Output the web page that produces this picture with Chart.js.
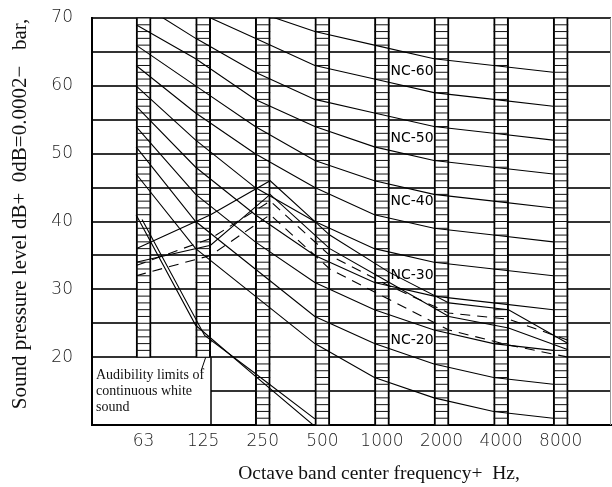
<!DOCTYPE html>
<html>
<head>
<meta charset="utf-8">
<script src="https://cdn.jsdelivr.net/npm/chart.js@4.4.1/dist/chart.umd.min.js"></script>
<style>
  html, body { margin: 0; padding: 0; background: #fff; }
  #nc-chart { display: block; }
</style>
</head>
<body>
<canvas id="nc-chart" width="612" height="487"></canvas>
<script>
"use strict";
// octave bands
const bandLabels = ["63", "125", "250", "500", "1000", "2000", "4000", "8000"];
const bandPositions = [0, 1, 2, 3, 4, 5, 6, 7];
const columnBottoms = [20, 20, 10, 10, 10, 10, 10, 10];
const columnTop = 70;

// NC curves, dB per band
const nc15 = [47, 36, 29, 22, 17, 14, 12, 11];
const nc20 = [51, 40, 33, 26, 22, 19, 17, 16];
const nc25 = [54, 44, 37, 31, 27, 24, 22, 21];
const nc30 = [57, 48, 41, 35, 31, 29, 28, 27];
const nc35 = [60, 52, 45, 40, 36, 34, 33, 32];
const nc40 = [63, 56, 50, 45, 41, 39, 38, 37];
const nc45 = [66, 60, 54, 49, 46, 44, 43, 42];
const nc50 = [69, 64, 58, 54, 51, 49, 48, 47];
const nc55 = [72.5, 67, 62, 58, 56, 54, 53, 52];
const nc60 = [76, 71, 67, 63, 61, 59, 58, 57];
const nc65 = [80, 75, 71, 68, 66, 64, 63, 62];

const ncLabelNames = ["NC-60", "NC-50", "NC-40", "NC-30", "NC-20"];
const ncLabelLevels = [62.2, 52.2, 42.9, 32.1, 22.5];

// measured spectra
const spectrumPositions = [0, 1.25, 2.25, 3.25, 4.25, 5.25, 6.25, 7.25];
const solidSpectrumA = [36, 41, 46, 38, 32.5, 28, 27, 22];
const solidSpectrumB = [34, 36.5, 44, 36, 31, 26, 24.3, 21.1];
const dashedSpectrumA = [33.5, 37.5, 43, 35, 30.5, 26.5, 25.6, 22.5];
const dashedSpectrumB = [32, 35, 41, 33, 28.5, 24, 21.8, 20];

// audibility limits of continuous white sound
const audibilityPositionsA = [0, 1, 2, 3];
const audibilityLevelsA = [41, 24.7, 17.2, 9.8];
const audibilityPositionsB = [0.1, 1.15, 2, 3];
const audibilityLevelsB = [40.3, 23.2, 17.6, 10.9];

const yAxisTitle = "Sound pressure level dB+  0dB=0.0002\u2212   bar,";
const xAxisTitle = "Octave band center frequency+  Hz,";
const noteLines = ["Audibility limits of", "continuous white", "sound"];

const columnHalf = 0.126;
const tickFont = { family: "DejaVu Sans", size: 17, weight: 300 };

const toPoints = (xs, ys) => xs.map((x, i) => ({ x: x, y: ys[i] }));

const ncDatasets = [nc15, nc20, nc25, nc30, nc35, nc40, nc45, nc50, nc55, nc60, nc65].map(
  (levels) => ({
    type: "line",
    data: toPoints(bandPositions, levels),
    borderColor: "#000",
    borderWidth: 1.1,
    pointRadius: 0,
    order: 1,
  }),
);

const spectrumDataset = (levels, dashed) => ({
  type: "line",
  data: toPoints(spectrumPositions, levels),
  borderColor: "#000",
  borderWidth: 1.1,
  borderDash: dashed ? [10, 7] : [],
  pointRadius: 0,
  order: 1,
});

const columnsDataset = {
  type: "bar",
  data: bandPositions.map((p, i) => ({ x: p + columnHalf, y: [columnBottoms[i], columnTop] })),
  backgroundColor: "#fff",
  borderColor: "#000",
  borderWidth: { left: 2, right: 2, top: 0, bottom: 0 },
  borderSkipped: false,
  barThickness: 15,
  order: 5,
};

const chartDecorations = {
  id: "chartDecorations",
  beforeDatasetsDraw(chart) {
    const { ctx, chartArea, scales } = chart;
    const columns = chart.getDatasetMeta(chart.data.datasets.length - 1).data;
    const boxRight = Math.round(columns[1].x + columns[1].width / 2);
    const boxTop = scales.y.getPixelForValue(20);
    ctx.save();
    ctx.fillStyle = "#fff";
    ctx.fillRect(chartArea.left + 1, boxTop + 1, boxRight - chartArea.left - 1, chartArea.bottom - boxTop - 2);
    ctx.strokeStyle = "#000";
    ctx.lineWidth = 1.5;
    ctx.beginPath();
    ctx.moveTo(boxRight, boxTop);
    ctx.lineTo(boxRight, chartArea.bottom);
    ctx.stroke();
    ctx.fillStyle = "#111";
    ctx.font = "14px 'Liberation Serif'";
    ctx.textBaseline = "alphabetic";
    noteLines.forEach((line, i) => {
      ctx.fillText(line, chartArea.left + 4, boxTop + 22 + i * 16);
    });
    // leader to the curves
    ctx.lineWidth = 1;
    ctx.beginPath();
    ctx.moveTo(boxRight - 10, boxTop + 14);
    ctx.lineTo(boxRight + 0.5, scales.y.getPixelForValue(22.5));
    ctx.stroke();
    ctx.restore();
  },
  afterDatasetDraw(chart, args) {
    if (args.meta.type !== "bar") return;
    const { ctx, scales } = chart;
    ctx.save();
    ctx.strokeStyle = "#111";
    ctx.lineWidth = 1;
    args.meta.data.forEach((bar, i) => {
      const left = bar.x - bar.width / 2;
      for (let v = columnBottoms[i]; v <= columnTop; v++) {
        const yy = scales.y.getPixelForValue(v);
        ctx.beginPath();
        ctx.moveTo(left, yy);
        ctx.lineTo(left + bar.width, yy);
        ctx.stroke();
      }
    });
    ctx.restore();
  },
  afterDatasetsDraw(chart) {
    const { ctx, scales } = chart;
    const columns = chart.getDatasetMeta(chart.data.datasets.length - 1).data;
    const labelLeft = columns[4].x + columns[4].width / 2 + 1;
    ctx.save();
    ctx.fillStyle = "#000";
    ctx.font = "14px 'DejaVu Sans'";
    ctx.textBaseline = "middle";
    ncLabelNames.forEach((name, i) => {
      ctx.fillText(name, labelLeft, scales.y.getPixelForValue(ncLabelLevels[i]));
    });
    ctx.restore();
  },
  afterDraw(chart) {
    const { ctx, chartArea } = chart;
    ctx.save();
    ctx.strokeStyle = "#999";
    ctx.lineWidth = 1;
    ctx.beginPath();
    ctx.moveTo(chartArea.right - 0.5, chartArea.top);
    ctx.lineTo(chartArea.right - 0.5, chartArea.bottom);
    ctx.stroke();
    ctx.fillStyle = "#111";
    ctx.textAlign = "center";
    ctx.textBaseline = "middle";
    ctx.font = "19.5px 'Liberation Serif'";
    ctx.fillText(xAxisTitle, 379, 474);
    ctx.font = "21px 'Liberation Serif'";
    ctx.translate(20, 214);
    ctx.rotate(-Math.PI / 2);
    ctx.fillText(yAxisTitle, 0, 0);
    ctx.restore();
  },
};

new Chart(document.getElementById("nc-chart"), {
  type: "line",
  data: {
    datasets: [
      ...ncDatasets,
      spectrumDataset(solidSpectrumA, false),
      spectrumDataset(solidSpectrumB, false),
      spectrumDataset(dashedSpectrumA, true),
      spectrumDataset(dashedSpectrumB, true),
      {
        type: "line",
        data: toPoints(audibilityPositionsA, audibilityLevelsA),
        borderColor: "#000",
        borderWidth: 1.1,
        pointRadius: 0,
        order: 1,
      },
      {
        type: "line",
        data: toPoints(audibilityPositionsB, audibilityLevelsB),
        borderColor: "#000",
        borderWidth: 1.1,
        pointRadius: 0,
        order: 1,
      },
      columnsDataset,
    ],
  },
  options: {
    responsive: false,
    animation: false,
    layout: { padding: { top: 18, right: 1, left: 0, bottom: 0 } },
    plugins: {
      legend: { display: false },
      tooltip: { enabled: false },
    },
    scales: {
      x: {
        type: "linear",
        min: -0.74,
        max: 7.97,
        offset: false,
        afterFit: (scale) => {
          scale.height = 62;
        },
        afterBuildTicks: (scale) => {
          scale.ticks = bandPositions.map((p) => ({ value: p + columnHalf }));
        },
        grid: { display: false, drawTicks: false },
        border: { display: true, color: "#000", width: 2 },
        ticks: {
          padding: 6,
          color: "#222",
          font: tickFont,
          autoSkip: false,
          maxRotation: 0,
          callback: (value) => bandLabels[Math.round(value - columnHalf)],
        },
      },
      y: {
        type: "linear",
        min: 10,
        max: 70,
        afterFit: (scale) => {
          scale.width = 92;
          scale.paddingTop = 0;
          scale.paddingBottom = 0;
        },
        grid: { color: "#333", lineWidth: 2, drawTicks: false },
        border: { display: true, color: "#000", width: 2 },
        ticks: {
          stepSize: 5,
          padding: 19,
          color: "#222",
          font: tickFont,
          callback: (value) => (value % 10 === 0 && value > 10 ? value : ""),
        },
      },
    },
  },
  plugins: [chartDecorations],
});
</script>
</body>
</html>
